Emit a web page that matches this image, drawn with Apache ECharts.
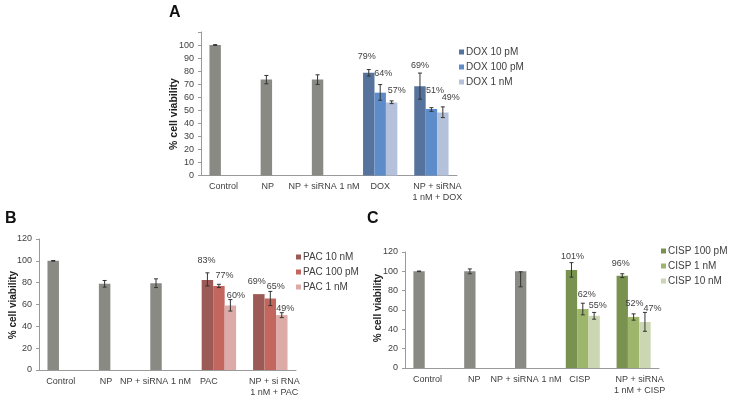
<!DOCTYPE html>
<html>
<head>
<meta charset="utf-8">
<script src="https://cdn.jsdelivr.net/npm/echarts@6/dist/echarts.min.js"></script>
<style>html,body{margin:0;padding:0;background:#fff}#main{width:732px;height:401px}</style>
</head>
<body>
<div id="main"></div>
<script>
// categories
var catsA = ['Control', 'NP', 'NP + siRNA 1 nM', 'DOX', 'NP + siRNA\n1 nM + DOX'];
var catsB = ['Control', 'NP', 'NP + siRNA 1 nM', 'PAC', 'NP + si RNA\n1 nM + PAC'];
var catsC = ['Control', 'NP', 'NP + siRNA 1 nM', 'CISP', 'NP + siRNA\n1 nM + CISP'];

// series names (legend)
var namesA = ['DOX 10 pM', 'DOX 100 pM', 'DOX 1 nM'];
var namesB = ['PAC 10 nM', 'PAC 100 pM', 'PAC 1 nM'];
var namesC = ['CISP 100 pM', 'CISP 1 nM', 'CISP 10 nM'];

// % viability, '-' = no bar
var a1 = [100, 73.5, 73.5, 78.7, 68.5];
var a2 = ['-', '-', '-', 63.5, 51];
var a3 = ['-', '-', '-', 56, 48.3];
var b1 = [100, 79, 79.5, 82.5, 69.5];
var b2 = ['-', '-', '-', 77, 65.5];
var b3 = ['-', '-', '-', 59, 50.3];
var c1 = [100, 100, 100, 101.4, 95.5];
var c2 = ['-', '-', '-', 61, 52.8];
var c3 = ['-', '-', '-', 54, 47.6];

// error bars [low, high]
var a1Err = [[99.7, 100.3], [70.3, 76.7], [69.8, 77.2], [76.2, 81.2], [58.5, 78.5]];
var a2Err = [null, null, null, [57.7, 69.7], [49.2, 52]];
var a3Err = [null, null, null, [55.1, 57.2], [44.4, 52.6]];
var b1Err = [[99.7, 100.3], [75.9, 82], [75.5, 83.5], [77, 89], null];
var b2Err = [null, null, null, [75.5, 78.5], [59, 72]];
var b3Err = [null, null, null, [54, 64.5], [48, 52.5]];
var c1Err = [[99.7, 100.3], [97.5, 102.5], [84, 99.5], [94, 109], [93.5, 97.5]];
var c2Err = [null, null, null, [55, 67], [49.5, 56]];
var c3Err = [null, null, null, [50.5, 57.5], [38, 57.5]];

// bar labels
var a1Lab = ['', '', '', '79%', '69%'];
var a2Lab = ['', '', '', '64%', '51%'];
var a3Lab = ['', '', '', '57%', '49%'];
var b1Lab = ['', '', '', '83%', '69%'];
var b2Lab = ['', '', '', '77%', '65%'];
var b3Lab = ['', '', '', '60%', '49%'];
var c1Lab = ['', '', '', '101%', '96%'];
var c2Lab = ['', '', '', '62%', '52%'];
var c3Lab = ['', '', '', '55%', '47%'];

// label nudges [dx, dy] for the two treated groups
var offA = [[[-2, -7], [0, -11.5]], [[3, -10], [3.5, -9]], [[5, -2.5], [8, -5.5]]];
var offB = [[[-1, -9.5], [-2, -3]], [[5.5, -0.5], [5.5, -2.5]], [[5.5, -1], [3.5, 3]]];
var offC = [[[1, -3.5], [-1.5, -2.5]], [[4, -5], [1, -4]], [[3.5, -1], [7.5, -4]]];
// x label nudges (px)
var shiftA = [-3, -10, -5, 0, 6];
var shiftB = [-4, -10, -12, -10, 4];
var shiftC = [-3, -7, -6, -3, 6];

var GRAY = '#8a8a84';
var colA = ['#55739c', '#5d8cc8', '#b4c1da'];
var colB = ['#9b5a55', '#c3665e', '#dcaba7'];
var colC = ['#7a9250', '#9db66b', '#cad7b2'];
var GAP = 0.33;
var FONT = 'Liberation Sans, Arial, sans-serif';

var myChart = echarts.init(document.getElementById('main'));

function barData(vals, labs, offs) {
    return vals.map(function (v, i) {
        var item = { value: v };
        if (i < 3 && v !== '-') item.itemStyle = { color: GRAY };
        if (labs[i]) {
            item.label = { show: true, formatter: labs[i], offset: offs[i - 3] };
        }
        return item;
    });
}

function barSeries(name, xi, vals, labs, offs, color) {
    return {
        name: name,
        type: 'bar',
        xAxisIndex: xi,
        yAxisIndex: xi,
        barGap: '0%',
        barCategoryGap: (GAP * 100) + '%',
        itemStyle: { color: color },
        label: { show: false, position: 'top', distance: 5, fontSize: 9, color: '#404040', fontFamily: FONT },
        data: barData(vals, labs, offs)
    };
}

function errSeries(xi, bounds, slot) {
    var data = [];
    bounds.forEach(function (b, i) { if (b) data.push([i, b[0], b[1]]); });
    return {
        type: 'custom',
        xAxisIndex: xi,
        yAxisIndex: xi,
        z: 10,
        silent: true,
        encode: { x: 0, y: [1, 2] },
        data: data,
        renderItem: function (params, api) {
            var cat = api.value(0);
            var lo = api.coord([cat, api.value(1)]);
            var hi = api.coord([cat, api.value(2)]);
            var slotW = api.size([1, 0])[0] * (1 - GAP) / 3;
            var x = lo[0] + (slot - 1) * slotW;
            var st = { stroke: '#333', lineWidth: 1 };
            return {
                type: 'group',
                children: [
                    { type: 'line', shape: { x1: x, y1: hi[1], x2: x, y2: lo[1] }, style: st },
                    { type: 'line', shape: { x1: x - 2, y1: hi[1], x2: x + 2, y2: hi[1] }, style: st },
                    { type: 'line', shape: { x1: x - 2, y1: lo[1], x2: x + 2, y2: lo[1] }, style: st }
                ]
            };
        }
    };
}

function xAx(gi, cats, shifts) {
    var data = cats.map(function (c, i) {
        var s = shifts[i];
        return { value: c, textStyle: { padding: s < 0 ? [0, -2 * s, 0, 0] : [0, 0, 0, 2 * s] } };
    });
    return {
        type: 'category', gridIndex: gi, data: data,
        axisLine: { lineStyle: { color: '#9a9a9a' } },
        axisTick: { length: 4, lineStyle: { color: '#9a9a9a' } },
        axisLabel: { fontSize: 9, color: '#404040', fontFamily: FONT, margin: 6, lineHeight: 11, interval: 0 }
    };
}

function yAx(gi, max, step) {
    return {
        type: 'value', gridIndex: gi, min: 0, max: max, interval: step,
        splitLine: { show: false },
        axisLine: { show: true, lineStyle: { color: '#9a9a9a' } },
        axisTick: { show: true, length: 3, lineStyle: { color: '#9a9a9a' } },
        axisLabel: {
            fontSize: 9, color: '#404040', fontFamily: FONT, margin: 7,
            formatter: function (v) { return v > 100 && max === 110 ? '' : v; }
        }
    };
}

function legendAt(names, left, top) {
    return {
        data: names, left: left, top: top, orient: 'vertical', padding: 0,
        icon: 'rect', itemWidth: 5, itemHeight: 5, itemGap: 5,
        textStyle: { fontSize: 10, color: '#404040', fontFamily: FONT, padding: [0, 0, 0, -3] }
    };
}

var series = [];
[[namesA, [a1, a2, a3], [a1Lab, a2Lab, a3Lab], offA, colA, [a1Err, a2Err, a3Err]],
 [namesB, [b1, b2, b3], [b1Lab, b2Lab, b3Lab], offB, colB, [b1Err, b2Err, b3Err]],
 [namesC, [c1, c2, c3], [c1Lab, c2Lab, c3Lab], offC, colC, [c1Err, c2Err, c3Err]]
].forEach(function (p, xi) {
    for (var k = 0; k < 3; k++) {
        series.push(barSeries(p[0][k], xi, p[1][k], p[2][k], p[3][k], p[4][k]));
    }
    for (var k2 = 0; k2 < 3; k2++) {
        series.push(errSeries(xi, p[5][k2], k2));
    }
});

var option = {
    animation: false,
    backgroundColor: '#fff',
    grid: [
        { left: 201, top: 32, width: 256, height: 143.5 },
        { left: 39, top: 239, width: 257, height: 131 },
        { left: 405, top: 252, width: 254, height: 116 }
    ],
    xAxis: [xAx(0, catsA, shiftA), xAx(1, catsB, shiftB), xAx(2, catsC, shiftC)],
    yAxis: [yAx(0, 110, 10), yAx(1, 120, 20), yAx(2, 120, 20)],
    legend: [
        legendAt(namesA, 459, 47),
        legendAt(namesB, 296, 252),
        legendAt(namesC, 661, 246)
    ],
    graphic: [
        { type: 'text', left: 169, top: 5, style: { text: 'A', font: 'bold 16px ' + FONT, fill: '#111' } },
        { type: 'text', left: 5, top: 211, style: { text: 'B', font: 'bold 16px ' + FONT, fill: '#111' } },
        { type: 'text', left: 367, top: 211, style: { text: 'C', font: 'bold 16px ' + FONT, fill: '#111' } },
        { type: 'text', x: 174, y: 114, rotation: Math.PI / 2, style: { text: '% cell viability', font: 'bold 10.5px ' + FONT, fill: '#222', align: 'center', verticalAlign: 'middle' } },
        { type: 'text', x: 13.5, y: 305, rotation: Math.PI / 2, style: { text: '% cell viability', font: 'bold 10px ' + FONT, fill: '#222', align: 'center', verticalAlign: 'middle' } },
        { type: 'text', x: 378.5, y: 308, rotation: Math.PI / 2, style: { text: '% cell viability', font: 'bold 10px ' + FONT, fill: '#222', align: 'center', verticalAlign: 'middle' } }
    ],
    series: series
};

myChart.setOption(option);
</script>
</body>
</html>
